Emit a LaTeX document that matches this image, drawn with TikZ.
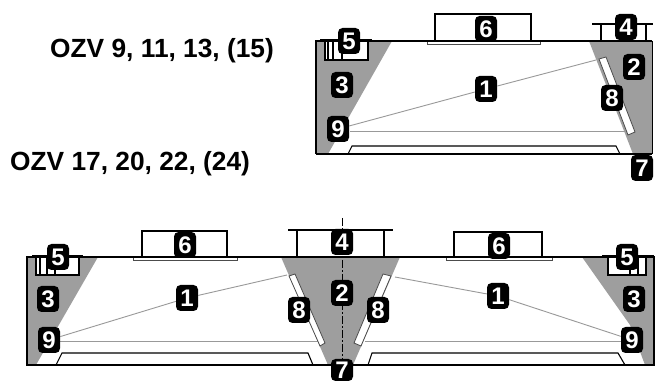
\documentclass[tikz,border=0pt]{standalone}
\usepackage{fontspec}
\setmainfont{Liberation Sans}
\definecolor{wallgray}{gray}{0.62}
\definecolor{raygray}{gray}{0.6}
\tikzset{
  badge/.style={fill=black,text=white,rounded corners=4.5pt,inner sep=0,minimum width=22pt,minimum height=26pt,font=\bfseries\fontsize{24}{24}\selectfont},
  heading/.style={inner sep=0,anchor=base west,font=\bfseries\fontsize{26.3}{28}\selectfont},
  wall/.style={fill=wallgray},
  ray/.style={raygray,line width=.9pt},
  outline/.style={black,line width=1.6pt},
  thin part/.style={black,line width=1.1pt,fill=white},
  strip/.style={black!70,line width=.8pt,fill=white}
}

\begin{document}
\begin{tikzpicture}[x=1pt,y=-1pt]
    \useasboundingbox[fill=white] (0,0) rectangle (657,382);

    \node[heading] (title1) at (50,58) {OZV 9, 11, 13, (15)};
    \node[heading] (title2) at (10,171) {OZV 17, 20, 22, (24)};

    % upper hall
    \fill[wall] (316,41) -- (392,41) -- (350,115) -- (328,154) -- (316,154) -- cycle;
    \fill[wall] (589,41) -- (652,41) -- (652,154) -- (633,154) -- cycle;
    \draw[ray] (350,131) -- (625,131);
    \draw[thin part] (348,154) -- (352,146) -- (616,146) -- (620,154);
    \draw[thin part] (435,41) -- (435,14) -- (531,14) -- (531,41);
    \draw[strip] (427,41) rectangle (540,44);
    \draw[thin part] (601,41) -- (601,24) (646,41) -- (646,24);
    \draw[thin part] (592,24) -- (653,24);
    \draw[thin part] (325,41) rectangle (368,60);
    \draw[thin part] (328,41) -- (328,60) (333,41) -- (333,60) (342,41) -- (342,60);
    \draw[strip] (599,59) -- (606,57) -- (635,132) -- (628,135) -- cycle;
    \draw[outline] (316,154) -- (316,41) -- (652,41) (316,154) -- (652,154);
    \draw[black,line width=.8pt] (652,41) -- (652,154);
    \draw[outline] (320,40) -- (372,40);

    % lower hall
    \fill[wall] (27,257) -- (98,257) -- (60,323) -- (36,365) -- (27,365) -- cycle;
    \fill[wall] (281,257) -- (400,257) -- (353,365) -- (328,365) -- cycle;
    \fill[wall] (582,257) -- (654,257) -- (654,365) -- (645,365) -- (630,325) -- cycle;
    \draw[ray] (60,341) -- (318,341) (365,341) -- (625,341);
    \draw[thin part] (56,365) -- (62,353) -- (308,353) -- (313,365);
    \draw[thin part] (368,365) -- (372,353) -- (618,353) -- (625,365);
    \draw[thin part] (142,257) -- (142,231) -- (227,231) -- (227,257);
    \draw[strip] (133,257) rectangle (237,260);
    \draw[thin part] (454,257) -- (454,232) -- (542,232) -- (542,257);
    \draw[strip] (446,257) rectangle (552,260);
    \draw[thin part] (297,257) -- (297,230) (384,257) -- (384,230);
    \draw[thin part] (288,230) -- (393,230);
    \draw[thin part] (36,257) rectangle (79,275);
    \draw[thin part] (40,257) -- (40,275) (47,257) -- (47,275) (55,257) -- (55,275);
    \draw[thin part] (608,257) rectangle (646,275);
    \draw[thin part] (646,257) -- (646,275) (638,257) -- (638,275) (630,257) -- (630,275);
    \draw[strip] (289,276) -- (295,274) -- (325,343) -- (320,346) -- cycle;
    \draw[strip] (383,274) -- (391,276) -- (361,346) -- (354,343) -- cycle;
    \draw[outline] (27,365) -- (27,257) -- (654,257) -- (654,365) -- cycle;
    \draw[outline] (32,256) -- (83,256) (602,256) -- (654,256);
    \draw[black,line width=.7pt,dash pattern=on 8pt off 2pt on 2pt off 2pt] (342,218) -- (342,365);

    % badges
    \node[badge] (a1) at (486,89) {1};
    \node[badge] (a2) at (634,67) {2};
    \node[badge] (a3) at (342,85) {3};
    \node[badge] (a4) at (626,27) {4};
    \node[badge] (a5) at (349,41) {5};
    \node[badge] (a6) at (486,29) {6};
    \node[badge] (a7) at (642,168) {7};
    \node[badge] (a8) at (612,98) {8};
    \node[badge] (a9) at (338,129) {9};
    \coordinate (aend) at (596,60);

    \node[badge] (b1) at (187,298) {1};
    \node[badge] (c1) at (498,296) {1};
    \node[badge] (b2) at (342,293) {2};
    \node[badge] (b3) at (48,299) {3};
    \node[badge] (c3) at (634,299) {3};
    \node[badge] (b4) at (342,242) {4};
    \node[badge] (b5) at (58,257) {5};
    \node[badge] (c5) at (627,257) {5};
    \node[badge] (b6) at (185,245) {6};
    \node[badge] (c6) at (499,246) {6};
    \node[badge,minimum height=22pt] (b7) at (342,370) {7};
    \node[badge] (b8) at (299,310) {8};
    \node[badge] (c8) at (378,310) {8};
    \node[badge] (b9) at (49,340) {9};
    \node[badge] (c9) at (632,340) {9};
    \coordinate (bend) at (287,275);
    \coordinate (cend) at (395,277);

    \draw[ray] (a9) -- (a1) (a1) -- (aend);
    \draw[ray] (b9) -- (b1) (b1) -- (bend);
    \draw[ray] (c9) -- (c1) (c1) -- (cend);
  \end{tikzpicture}
\end{document}
